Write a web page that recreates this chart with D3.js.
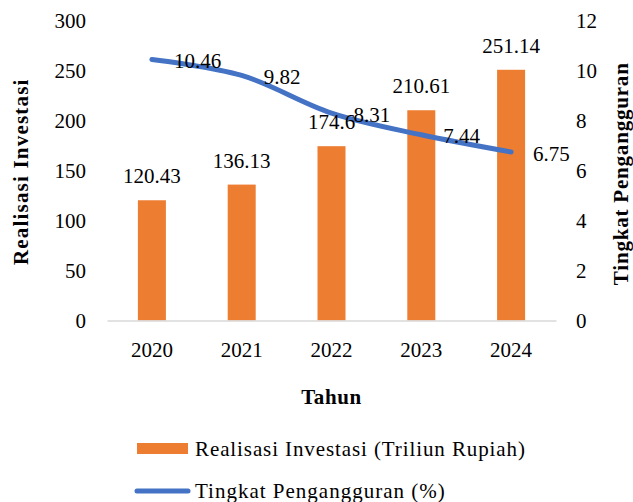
<!DOCTYPE html>
<html>
<head>
<meta charset="utf-8">
<script src="https://cdn.jsdelivr.net/npm/d3@7"></script>
<style>
  body { margin: 0; background: #fff; }
  text { font-family: "Liberation Serif", serif; fill: #000; }
</style>
</head>
<body>
<div id="chart"></div>
<script>
const years = ['2020', '2021', '2022', '2023', '2024']
const investasi = [120.43, 136.13, 174.6, 210.61, 251.14]
const pengangguran = [10.46, 9.82, 8.31, 7.44, 6.75]
const leftTicks = [0, 50, 100, 150, 200, 250, 300]
const rightTicks = [0, 2, 4, 6, 8, 10, 12]

const width = 633
const height = 502
const plot = { left: 107, right: 556, top: 21, bottom: 320.5 }

const svg = d3.select('#chart').append('svg')
    .attr('width', width)
    .attr('height', height)

// skala
const x = d3.scaleBand().domain(years).range([plot.left, plot.right])
const yL = d3.scaleLinear().domain([0, 300]).range([plot.bottom, plot.top])
const yR = d3.scaleLinear().domain([0, 12]).range([plot.bottom, plot.top])
const barW = 28

// batang
svg.selectAll('rect.bar')
    .data(investasi)
    .enter()
    .append('rect')
    .attr('class', 'bar')
    .attr('x', (d, i) => x(years[i]) + x.bandwidth() / 2 - barW / 2)
    .attr('y', d => yL(d))
    .attr('width', barW)
    .attr('height', d => yL(0) - yL(d))
    .attr('fill', '#ED7D31')

// sumbu x
svg.append('g')
    .attr('transform', `translate(0,${plot.bottom})`)
    .call(d3.axisBottom(x).tickSize(0).tickPadding(22))
    .call(g => g.select('.domain').attr('stroke', '#d9d9d9').attr('stroke-width', 1.5))
    .call(g => g.selectAll('text').attr('font-size', 21))

// sumbu kiri
svg.append('g')
    .attr('transform', `translate(${plot.left - 21},0)`)
    .call(d3.axisLeft(yL).tickValues(leftTicks).tickSize(0).tickPadding(0))
    .call(g => g.select('.domain').remove())
    .call(g => g.selectAll('text').attr('font-size', 21))

// sumbu kanan
svg.append('g')
    .attr('transform', `translate(${plot.right + 20},0)`)
    .call(d3.axisRight(yR).tickValues(rightTicks).tickSize(0).tickPadding(0))
    .call(g => g.select('.domain').remove())
    .call(g => g.selectAll('text').attr('font-size', 21))

// garis
const line = d3.line()
    .x((d, i) => x(years[i]) + x.bandwidth() / 2)
    .y(d => yR(d))
    .curve(d3.curveCatmullRom)

svg.append('path')
    .datum(pengangguran)
    .attr('d', line)
    .attr('fill', 'none')
    .attr('stroke', '#4472C4')
    .attr('stroke-width', 5)
    .attr('stroke-linecap', 'round')

// label batang
svg.selectAll('text.barlbl')
    .data(investasi)
    .enter()
    .append('text')
    .attr('class', 'barlbl')
    .attr('x', (d, i) => x(years[i]) + x.bandwidth() / 2)
    .attr('y', d => yL(d) - 17)
    .attr('text-anchor', 'middle')
    .attr('font-size', 21)
    .text(d => d)

// label garis
svg.selectAll('text.linelbl')
    .data(pengangguran)
    .enter()
    .append('text')
    .attr('class', 'linelbl')
    .attr('x', (d, i) => x(years[i]) + x.bandwidth() / 2 + 22)
    .attr('y', d => yR(d) + 8.5)
    .attr('font-size', 21)
    .text(d => d)

// judul sumbu
svg.append('text')
    .attr('transform', `translate(28,${(plot.top + plot.bottom) / 2 + 1}) rotate(-90)`)
    .attr('text-anchor', 'middle')
    .attr('font-size', 21)
    .attr('font-weight', 'bold')
    .attr('letter-spacing', 1.2)
    .text('Realisasi Investasi')

svg.append('text')
    .attr('transform', `translate(628,${(plot.top + plot.bottom) / 2 + 3}) rotate(-90)`)
    .attr('text-anchor', 'middle')
    .attr('font-size', 21)
    .attr('font-weight', 'bold')
    .attr('letter-spacing', 0.8)
    .text('Tingkat Pengangguran')

svg.append('text')
    .attr('x', (plot.left + plot.right) / 2)
    .attr('y', 404)
    .attr('text-anchor', 'middle')
    .attr('font-size', 21)
    .attr('font-weight', 'bold')
    .attr('letter-spacing', 0.6)
    .text('Tahun')

// legenda
svg.append('rect')
    .attr('x', 137).attr('y', 443)
    .attr('width', 51).attr('height', 11)
    .attr('fill', '#ED7D31')
svg.append('text')
    .attr('x', 195).attr('y', 456)
    .attr('font-size', 21)
    .attr('letter-spacing', 0.9)
    .text('Realisasi Investasi (Triliun Rupiah)')
svg.append('line')
    .attr('x1', 137).attr('x2', 188)
    .attr('y1', 491).attr('y2', 491)
    .attr('stroke', '#4472C4')
    .attr('stroke-width', 5)
    .attr('stroke-linecap', 'round')
svg.append('text')
    .attr('x', 195).attr('y', 498)
    .attr('font-size', 21)
    .attr('letter-spacing', 1)
    .text('Tingkat Pengangguran (%)')
</script>
</body>
</html>
